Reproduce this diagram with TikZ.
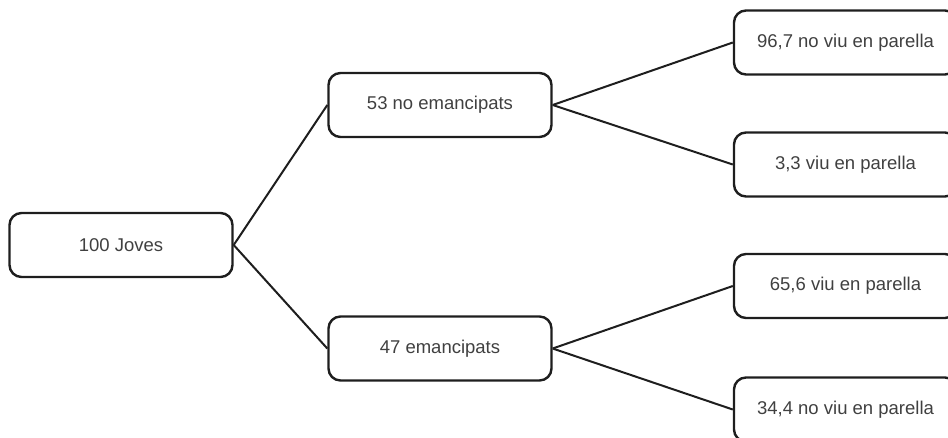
\documentclass[tikz,border=0pt]{standalone}
\usepackage{fontspec}
\setmainfont{Liberation Sans}
\definecolor{txt}{HTML}{404040}
\definecolor{ln}{HTML}{1E1E1E}
\begin{document}
\begin{tikzpicture}[x=1pt,y=-1pt,
  box/.style={draw=ln,line width=2.4pt,rounded corners=12pt,minimum width=223pt,minimum height=64pt,inner sep=0pt,
    text=txt,font=\fontsize{18.5}{22}\selectfont},
  conn/.style={draw=ln,line width=2pt}]
\useasboundingbox (0,0) rectangle (948,437);
\clip (0,0) rectangle (948,437);
\node[box] (root) at (121,245) {100 Joves};
\node[box] (a) at (440,105) {53 no emancipats};
\node[box] (b) at (440,348.5) {47 emancipats};
\node[box] (a1) at (845.5,42.5) {96,7 no viu en parella};
\node[box] (a2) at (845.5,164.5) {3,3 viu en parella};
\node[box] (b1) at (845.5,286) {65,6 viu en parella};
\node[box] (b2) at (845.5,409.5) {34,4 no viu en parella};
\draw[conn] (root.east) -- (a.west);
\draw[conn] (root.east) -- (b.west);
\draw[conn] (a.east) -- (a1.west);
\draw[conn] (a.east) -- (a2.west);
\draw[conn] (b.east) -- (b1.west);
\draw[conn] (b.east) -- (b2.west);
\end{tikzpicture}
\end{document}
